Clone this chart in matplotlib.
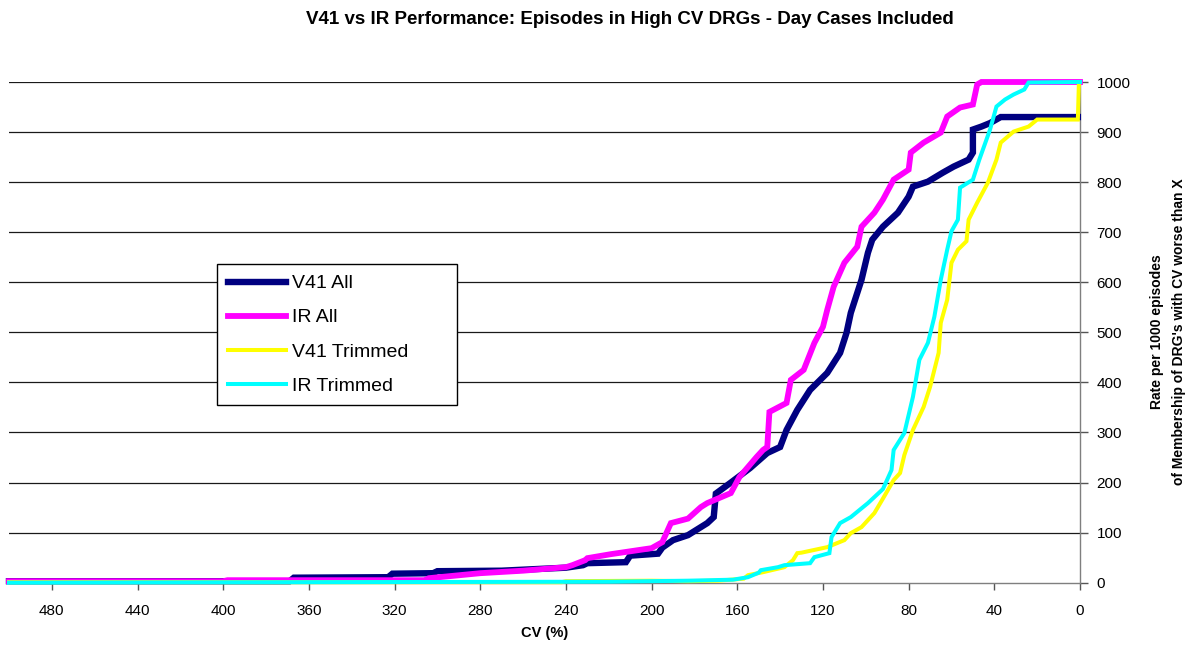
import matplotlib
matplotlib.use("Agg")
import matplotlib.pyplot as plt

plt.rcParams['font.family'] = ['Liberation Sans', 'DejaVu Sans']

# ---- data (CV %, rate per 1000) ----
v41_all_cv = [500, 369, 367, 323, 321, 302, 300, 270, 240, 232, 230, 212, 210, 197, 195, 190, 183, 174,
              171, 170, 163, 154, 146, 140, 137, 132, 126, 118, 112, 109, 107, 102, 99, 97, 92, 85, 80,
              78, 71, 64, 59, 52, 50, 50, 46, 42, 37, 1]
v41_all_rate = [3, 3, 10, 11, 18, 19, 23, 24, 30, 35, 39, 41, 54, 58, 70, 85, 95, 119,
                131, 178, 200, 229, 259, 271, 305, 345, 385, 419, 459, 499, 539, 605, 659, 685, 711, 739, 771,
                791, 801, 819, 831, 845, 859, 905, 911, 918, 930, 930]
v41_all_tail_cv = [1, 1, 25]
v41_all_tail_rate = [930, 1000, 1000]

ir_all_cv = [500, 400, 398, 306, 304, 280, 260, 240, 237, 231, 230, 219, 200, 195, 193, 191, 183, 177,
             174, 163, 159, 151, 148, 146, 145, 137, 135, 129, 124, 120, 118, 115, 110, 104, 102, 96, 92,
             87, 80, 79, 73, 65, 62, 56, 50, 48, 46, 0]
ir_all_rate = [3, 3, 5, 5, 9, 19, 24, 31, 35, 45, 49, 57, 69, 81, 100, 119, 128, 151,
               159, 179, 211, 251, 265, 271, 341, 359, 405, 425, 479, 511, 545, 591, 639, 671, 711, 739, 765,
               805, 825, 859, 879, 899, 931, 949, 955, 995, 1000, 1000]

v41_trim_cv = [500, 242, 240, 200, 183, 169, 157, 155, 148, 138, 134, 132, 130, 118, 110, 107, 102, 96, 92,
               87, 84, 82, 78, 73, 70, 66, 65, 62, 60, 57, 53, 52, 48, 43, 39, 37, 31, 24, 20, 1, 0.5, 0]
v41_trim_rate = [1, 1, 3, 4, 3, 4, 8, 15, 21, 31, 45, 59, 60, 71, 85, 99, 111, 139, 168,
                 205, 219, 255, 305, 351, 391, 459, 519, 565, 639, 665, 682, 725, 759, 799, 845, 879, 901,
                 911, 925, 925, 1000, 1000]

ir_trim_cv = [500, 220, 183, 162, 155, 150, 149, 141, 138, 126, 124, 117, 116, 112, 107, 99, 92, 88, 87,
              82, 78, 75, 71, 68, 65, 62, 60, 57, 56, 50, 47, 42, 39, 35, 31, 26, 24, 0]
ir_trim_rate = [0, 2, 4, 6, 11, 20, 25, 31, 35, 39, 51, 59, 91, 119, 131, 159, 187, 225, 265,
                299, 371, 445, 479, 531, 605, 665, 702, 725, 789, 805, 845, 905, 951, 965, 975, 985, 999,
                1000]

x_ticks = list(range(0, 481, 40))
y_ticks = list(range(0, 1001, 100))

title = "V41 vs IR Performance: Episodes in High CV DRGs - Day Cases Included"
xlabel = "CV (%)"
ylabel = "Rate per 1000 episodes\nof Membership of DRG's with CV worse than X"

# ---- figure ----
W, H = 1195, 646
fig = plt.figure(figsize=(W / 100, H / 100), dpi=100)
ax = fig.add_axes([9 / W, 1 - 582.7 / H, (1080 - 9) / W, (582.7 - 82) / H])

ax.set_xlim(500, 0)
ax.set_ylim(0, 1000)

for y in y_ticks[1:]:
    ax.axhline(y, color='#1a1a1a', lw=0.9, zorder=1)

ax.plot(v41_all_cv, v41_all_rate, color='#000080', lw=4.6, label='V41 All',
        solid_joinstyle='miter', clip_on=False, zorder=3)
ax.plot(v41_all_tail_cv, v41_all_tail_rate, color='#000080', lw=1.0, clip_on=False, zorder=3)
ax.plot(ir_all_cv, ir_all_rate, color='#FF00FF', lw=4.2, label='IR All',
        solid_joinstyle='miter', clip_on=False, zorder=4)
ax.plot(v41_trim_cv, v41_trim_rate, color='#FFFF00', lw=2.9, label='V41 Trimmed',
        solid_joinstyle='miter', clip_on=False, zorder=5)
ax.plot(ir_trim_cv, ir_trim_rate, color='#00FFFF', lw=2.9, label='IR Trimmed',
        solid_joinstyle='miter', clip_on=False, zorder=6)

for s in ['left', 'top']:
    ax.spines[s].set_visible(False)
for s in ['right', 'bottom']:
    ax.spines[s].set_color('#7f7f7f')
    ax.spines[s].set_linewidth(1.0)

ax.set_xticks(x_ticks)
ax.set_xticklabels([str(v) for v in x_ticks])
ax.set_yticks(y_ticks)
ax.yaxis.tick_right()
ax.tick_params(axis='x', direction='out', length=5, width=1, color='#555555', labelsize=11, pad=10)
ax.tick_params(axis='y', direction='out', length=6, width=1, color='#555555', labelsize=11, pad=6)

fig.text(630 / W, 1 - 19 / H, title, ha='center', va='center', fontsize=13.5, fontweight='bold')
fig.text(545 / W, 1 - 633 / H, xlabel, ha='center', va='center', fontsize=10.5, fontweight='bold')
fig.text(1168 / W, 1 - 332 / H, ylabel, ha='center', va='center', rotation=90,
         multialignment='center', fontsize=10, fontweight='bold', linespacing=1.7)

leg = ax.legend(loc='upper left', bbox_to_anchor=(217 / W, 1 - 406 / H, 240 / W, 142 / H),
                bbox_transform=fig.transFigure, mode='expand',
                borderaxespad=0, fontsize=14, handlelength=3.0, handletextpad=0.3, labelspacing=0.85,
                borderpad=0.55, fancybox=False, framealpha=1, edgecolor='black')
leg.get_frame().set_linewidth(1.0)
leg.set_zorder(10)

fig.savefig('out.png', dpi=100)
